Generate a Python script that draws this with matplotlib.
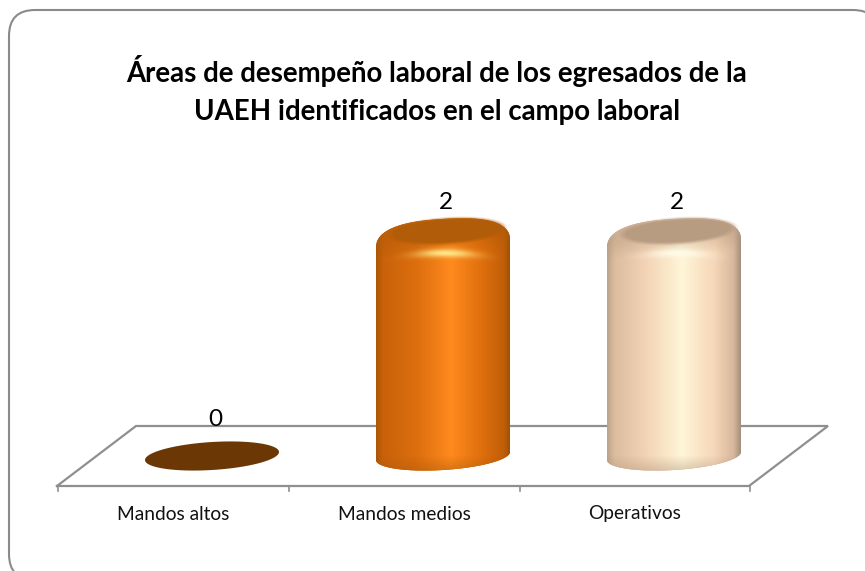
import numpy as np
import matplotlib
matplotlib.use("Agg")
import matplotlib.pyplot as plt
from matplotlib.patches import Polygon, FancyBboxPatch
from matplotlib.colors import LinearSegmentedColormap, to_rgb
from matplotlib.transforms import Affine2D

categories = ["Mandos altos", "Mandos medios", "Operativos"]
values = [0, 2, 2]
title = "Áreas de desempeño laboral de los egresados de la\nUAEH identificados en el campo laboral"
flat_colors = ["#6b3805", "#b05c08", "#b89c82"]
body_stops = [
    [(0, "#6b3805"), (1, "#6b3805")],
    [(0, "#a85406"), (0.06, "#c9620a"), (0.3, "#dc6e0e"), (0.56, "#ff8a1e"),
     (0.78, "#e0700e"), (0.95, "#c05e08"), (1, "#9c4e05")],
    [(0, "#b89f88"), (0.06, "#dcbc9e"), (0.3, "#f4d4b6"), (0.56, "#fff6d8"),
     (0.8, "#f6d6b8"), (0.94, "#d8b89c"), (1, "#9c8a78")],
]
highlight = ["#ffffff", "#ffe98a", "#fffbe6"]

W, H = 865, 571
PX_X = 231.0      # pixels per category
PX_Y = 108.5      # pixels per value unit
X0, Y0 = 212.0, 456.0   # pixel position of category 0, value 0
FLOOR_SHIFT = -39 # pixels between a bar and its tick label (3D view)

fig = plt.figure(figsize=(W / 100, H / 100), dpi=100, facecolor="white")
ax = fig.add_axes([0, 0, 1, 1])
ax.axis("off")


def dx(p):
    return p / PX_X


def dy(p):
    return p / PX_Y


def P(px, py):
    return ((px - X0) / PX_X, (Y0 - py) / PX_Y)


# chart frame (runs past the right and bottom edges of the picture)
frame = FancyBboxPatch((9, 10), 870, 570, boxstyle="round,pad=0,rounding_size=26",
                       transform=Affine2D().scale(1, -1).translate(0, H),
                       fc="white", ec="#8a8a8a", lw=1.5, zorder=0)
ax.add_patch(frame)

# floor
GRID = "#8f8f8f"
FX = [57, 749, 828, 136, 57]
FY = [486, 486, 426, 426, 486]
ax.plot(*zip(*[P(x, y) for x, y in zip(FX, FY)]), color=GRID, lw=1.6, zorder=1,
        solid_joinstyle="miter")
for i in range(len(categories) + 1):
    x = i - 0.5 + dx(FLOOR_SHIFT)
    ax.plot([x, x], [P(0, 486)[1], P(0, 491)[1]], color=GRID, lw=1.2, zorder=1)

A, B, SHEAR = 67, 14, 0.06
T = np.linspace(0, 2 * np.pi, 240)


def outline(cat, val, a_px=A, b_px=B, n=1.0, off=(0, 0)):
    c = np.cos(T)
    s = np.sin(T)
    ex = np.sign(c) * np.abs(c) ** n
    ey = np.sign(s) * np.abs(s) ** n
    return np.c_[cat + dx(a_px * ex + off[0]),
                 val + dy(b_px * ey + SHEAR * a_px * ex + off[1])]


def gradient(cat, y0, y1, rgba, clip, z):
    im = ax.imshow(rgba, extent=[cat - dx(A + 1), cat + dx(A + 1), y0, y1], origin="lower",
                   aspect="auto", interpolation="bilinear", zorder=z)
    im.set_clip_path(clip)


for i, (cat, val) in enumerate(zip(categories, values)):
    if val == 0:
        ax.add_patch(Polygon(outline(i, val), closed=True, fc=flat_colors[i], ec="none", zorder=3))
    else:
        base = outline(i, 0)[T >= np.pi]
        cap = outline(i, val, b_px=26, n=0.78, off=(0, -6))[T <= np.pi]
        sil = Polygon(np.r_[base, cap], closed=True, fc=flat_colors[i], ec="none", zorder=3)
        ax.add_patch(sil)

        cmap = LinearSegmentedColormap.from_list("b", body_stops[i])
        grad = cmap(np.linspace(0, 1, 256))[None, :, :]
        y_low, y_high = -dy(B + 6), val + dy(24)
        gradient(i, y_low, y_high, grad, sil, 4)

        ny = 240
        ypx = (np.linspace(y_low, y_high, ny) - val) * PX_Y
        xpx = np.linspace(-A - 1, A + 1, 256)
        XX, YY = np.meshgrid(xpx, ypx)
        dark = to_rgb(flat_colors[i])

        # slight darkening toward the rounded shoulder
        shade = np.zeros((ny, 256, 4))
        shade[..., :3] = dark
        shade[..., 3] = 0.4 * np.clip((YY + 16 - 0.06 * XX) / 16, 0, 1)
        gradient(i, y_low, y_high, shade, sil, 5)

        # bright band under the top surface, with the specular spot
        hi = np.zeros((ny, 256, 4))
        hi[..., :3] = to_rgb(highlight[i])
        hi[..., 3] = np.exp(-((XX - 3) / 28) ** 2 - ((YY + 14.5 + 0.0016 * XX ** 2) / 4.0) ** 2)
        gradient(i, y_low, y_high, hi, sil, 6)

        # darker rim along the bottom
        low = np.zeros((ny, 256, 4))
        low[..., :3] = dark
        low[..., 3] = 0.5 * np.clip(-(ypx[:, None] + val * PX_Y) / 16, 0, 1)
        gradient(i, y_low, y_high, low, sil, 5)

        # flat top surface with a soft edge
        for k, al in zip([-4, -2, 0, 2, 4], [0.15, 0.25, 0.35, 0.5, 1.0]):
            ax.add_patch(Polygon(outline(i, val, a_px=56 - k, b_px=12.5 - k * 0.4, off=(4, 8)),
                                 closed=True, fc=flat_colors[i], ec="none", alpha=al, zorder=7))

    ax.text(i + dx(3), val + dy(36.5), str(val), ha="center", va="center",
            fontsize=17.5, family="Lato", color="black", zorder=9)
    ax.text(i + dx(FLOOR_SHIFT), P(0, 514)[1], cat, ha="center", va="center",
            fontsize=13.8, family="Lato", color="#111111", zorder=9)

ax.set_xlim((0 - X0) / PX_X, (W - X0) / PX_X)
ax.set_ylim((Y0 - H) / PX_Y, Y0 / PX_Y)

ax.text(*P(437, 90), title, ha="center", va="center", fontsize=19.9, fontweight="bold",
        family="Lato", color="black", linespacing=1.55, zorder=9)

fig.savefig("out.png", dpi=100, facecolor="white")
